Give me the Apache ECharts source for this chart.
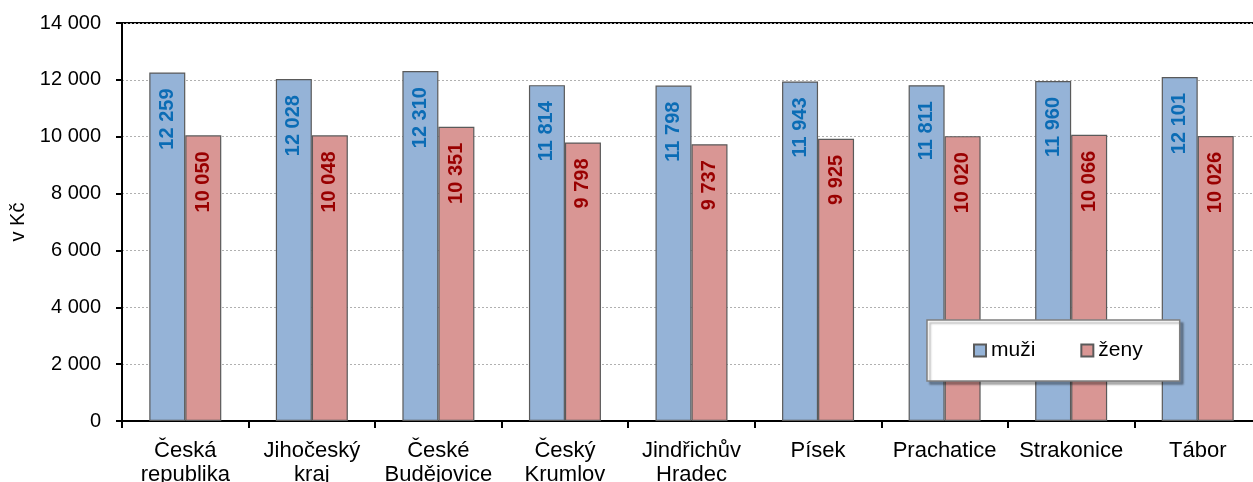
<!DOCTYPE html>
<html>
<head>
<meta charset="utf-8">
<script src="https://cdn.jsdelivr.net/npm/echarts@6/dist/echarts.min.js"></script>
<style>
html,body{margin:0;padding:0;background:#fff;}
#c{width:1253px;height:482px;}
</style>
</head>
<body>
<div id="c"></div>
<script>
const categories = ["Česká\nrepublika", "Jihočeský\nkraj", "České\nBudějovice", "Český\nKrumlov", "Jindřichův\nHradec", "Písek", "Prachatice", "Strakonice", "Tábor"];
const muzi = [12259, 12028, 12310, 11814, 11798, 11943, 11811, 11960, 12101];
const zeny = [10050, 10048, 10351, 9798, 9737, 9925, 10020, 10066, 10026];
const seriesNames = ["muži", "ženy"];
const yAxisName = "v Kč";

function fmt(v) {
  return String(v).replace(/\B(?=(\d{3})+(?!\d))/g, " ");
}

const FONT = "Liberation Sans, Arial, sans-serif";
const chart = echarts.init(document.getElementById('c'), null, {renderer: 'canvas'});

function barSeries(name, data, fill, labelColor) {
  return {
    name: name,
    type: 'bar',
    data: data,
    barWidth: 36,
    barGap: '0%',
    itemStyle: {color: fill, borderColor: '#5a5a5a', borderWidth: 1.2},
    label: {
      show: true,
      position: 'insideTop',
      rotate: 90,
      align: 'right',
      verticalAlign: 'middle',
      distance: 16,
      color: labelColor,
      fontFamily: FONT,
      fontWeight: 'bold',
      fontSize: 20,
      formatter: p => fmt(p.value)
    }
  };
}

chart.setOption({
  animation: false,
  backgroundColor: '#fff',
  textStyle: {fontFamily: FONT, color: '#000'},
  grid: {
    left: 122, top: 23, width: 1139, height: 398,
    outerBoundsMode: 'none',
    containLabel: false,
    show: true, borderColor: '#000', borderWidth: 2, backgroundColor: 'transparent'
  },
  legend: {
    left: 927, top: 320,
    padding: [20, 37, 20, 46],
    backgroundColor: '#fff',
    borderColor: '#7f7f7f',
    borderWidth: 1.5,
    shadowColor: 'rgba(0,0,0,0.3)',
    shadowOffsetX: 3, shadowOffsetY: 3, shadowBlur: 2,
    itemWidth: 12, itemHeight: 12, itemGap: 45,
    icon: 'rect',
    textStyle: {fontFamily: FONT, fontSize: 21, color: '#000'},
    data: seriesNames
  },
  xAxis: {
    type: 'category',
    data: categories,
    axisLine: {show: true, lineStyle: {color: '#000', width: 2}},
    axisTick: {show: true, length: 7, alignWithLabel: false, lineStyle: {color: '#000', width: 2}},
    axisLabel: {fontFamily: FONT, fontSize: 22, color: '#000', margin: 18, lineHeight: 24, interval: 0},
    splitLine: {show: false}
  },
  yAxis: {
    type: 'value',
    min: 0, max: 14000, interval: 2000,
    name: yAxisName,
    nameLocation: 'middle',
    nameGap: 88,
    nameRotate: 90,
    nameTextStyle: {fontFamily: FONT, fontSize: 20, color: '#000'},
    axisLine: {show: true, lineStyle: {color: '#000', width: 2}},
    axisTick: {show: true, length: 6, lineStyle: {color: '#000', width: 2}},
    axisLabel: {fontFamily: FONT, fontSize: 20, color: '#000', margin: 21, formatter: v => fmt(v)},
    splitLine: {show: true, lineStyle: {color: '#b0b0b0', width: 1, type: [2, 2]}}
  },
  series: [
    barSeries(seriesNames[0], muzi, '#95b3d7', '#0b6cb5'),
    barSeries(seriesNames[1], zeny, '#d99694', '#990000')
  ]
});
</script>
</body>
</html>
